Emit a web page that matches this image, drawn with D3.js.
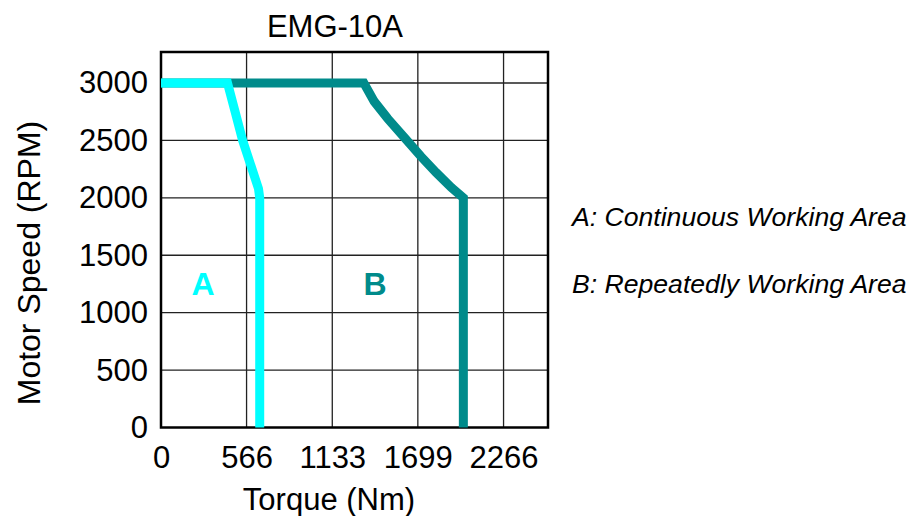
<!DOCTYPE html>
<html>
<head>
<meta charset="utf-8">
<script src="https://cdn.jsdelivr.net/npm/d3@7"></script>
<style>
  body { margin: 0; background: #fff; }
  svg { font-family: "Liberation Sans", Arial, sans-serif; }
</style>
</head>
<body>
<svg width="919" height="516"></svg>
<script>
"use strict";

// torque (Nm), speed (RPM)
const curveA = [
    [0, 3000], [440, 3000], [490, 2750], [540, 2500], [645, 2080], [653, 2000], [653, 0]
];
const curveB = [
    [0, 3000], [1342, 3000], [1410, 2840], [1500, 2690], [1620, 2510],
    [1720, 2360], [1820, 2220], [1920, 2090], [2000, 2000], [2000, 0]
];
const xTicks = [0, 566, 1133, 1699, 2266];
const yTicks = [0, 500, 1000, 1500, 2000, 2500, 3000];
const legendLines = ['A: Continuous Working Area', 'B: Repeatedly Working Area'];
const areaLabels = [
    {text: 'A', x: 278, y: 1150, color: '#00ffff'},
    {text: 'B', x: 1416, y: 1150, color: '#008b8b'}
];

const svg = d3.select('svg');

const x = d3.scaleLinear().domain([0, 2560]).range([161, 548]),
    y = d3.scaleLinear().domain([0, 3270]).range([427.5, 52]);

// grid
svg.append('g')
    .selectAll('line')
    .data(xTicks.slice(1))
    .enter().append('line')
    .attr('x1', d => x(d)).attr('x2', d => x(d))
    .attr('y1', y(0)).attr('y2', y(3270))
    .attr('stroke', '#222').attr('stroke-width', 1.3);

svg.append('g')
    .selectAll('line')
    .data(yTicks.slice(1))
    .enter().append('line')
    .attr('x1', x(0)).attr('x2', x(2560))
    .attr('y1', d => y(d)).attr('y2', d => y(d))
    .attr('stroke', '#222').attr('stroke-width', 1.3);

// frame
svg.append('rect')
    .attr('x', x(0)).attr('y', y(3270))
    .attr('width', x(2560) - x(0)).attr('height', y(0) - y(3270))
    .attr('fill', 'none').attr('stroke', '#000').attr('stroke-width', 2.5);

// axes (labels only)
const xAxis = svg.append('g')
    .attr('transform', `translate(0,${y(0)})`)
    .call(d3.axisBottom(x).tickValues(xTicks).tickFormat(d3.format('d')).tickSize(0).tickPadding(18));
const yAxis = svg.append('g')
    .attr('transform', `translate(${x(0)},0)`)
    .call(d3.axisLeft(y).tickValues(yTicks).tickFormat(d3.format('d')).tickSize(0).tickPadding(13));
[xAxis, yAxis].forEach(a => {
    a.select('.domain').remove();
    a.selectAll('text')
        .attr('font-family', '"Liberation Sans", Arial, sans-serif')
        .attr('font-size', '31px')
        .attr('fill', '#000');
});

// curves
const line = d3.line().x(d => x(d[0])).y(d => y(d[1]));

svg.append('path')
    .datum(curveB)
    .attr('d', line)
    .attr('fill', 'none')
    .attr('stroke', '#008b8b')
    .attr('stroke-width', 9);

svg.append('path')
    .datum(curveA)
    .attr('d', line)
    .attr('fill', 'none')
    .attr('stroke', '#00ffff')
    .attr('stroke-width', 9);

svg.selectAll('.area-label')
    .data(areaLabels)
    .enter().append('text')
    .attr('class', 'area-label')
    .attr('x', d => x(d.x))
    .attr('y', d => y(d.y))
    .attr('text-anchor', 'middle')
    .attr('font-size', '32px')
    .attr('font-weight', 'bold')
    .attr('fill', d => d.color)
    .text(d => d.text);

// titles
svg.append('text')
    .attr('x', 335).attr('y', 37)
    .attr('text-anchor', 'middle')
    .attr('font-size', '31px')
    .text('EMG-10A');

svg.append('text')
    .attr('x', 329).attr('y', 510)
    .attr('text-anchor', 'middle')
    .attr('font-size', '31px')
    .text('Torque (Nm)');

svg.append('text')
    .attr('transform', 'translate(40,263) rotate(-90)')
    .attr('text-anchor', 'middle')
    .attr('font-size', '32px')
    .text('Motor Speed (RPM)');

// legend
svg.selectAll('.legend')
    .data(legendLines)
    .enter().append('text')
    .attr('class', 'legend')
    .attr('x', 572)
    .attr('y', (d, i) => 226 + i * 67)
    .attr('font-size', '26.6px')
    .attr('font-style', 'italic')
    .text(d => d);
</script>
</body>
</html>
